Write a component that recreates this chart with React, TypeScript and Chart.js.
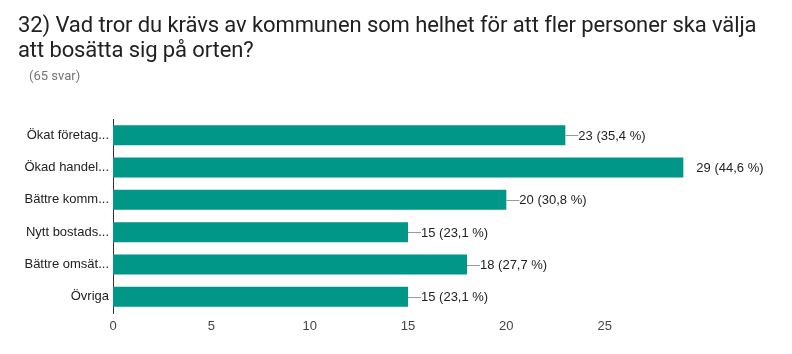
import React, { useEffect, useRef } from "react";
import { Chart, registerables } from "chart.js";

Chart.register(...registerables);

const TITLE_LINE_1 = "32) Vad tror du krävs av kommunen som helhet för att fler personer ska välja";
const TITLE_LINE_2 = "att bosätta sig på orten?";
const SUBTITLE = "(65 svar)";

const categories = ["Ökat företag...", "Ökad handel...", "Bättre komm...", "Nytt bostads...", "Bättre omsät...", "Övriga"];
const counts = [23, 29, 20, 15, 18, 15];
const percentLabels = ["35,4 %", "44,6 %", "30,8 %", "23,1 %", "27,7 %", "23,1 %"];
const xTicks = [0, 5, 10, 15, 20, 25];

const BAR_COLOR = "#009688";
const FONT = "'Liberation Sans', Arial, sans-serif";

const valueLabelPlugin = {
  id: "valueLabels",
  afterDatasetsDraw(chart: any) {
    const ctx = chart.ctx;
    const meta = chart.getDatasetMeta(0);
    const maxVal = Math.max(...counts);
    ctx.save();
    ctx.font = `13px ${FONT}`;
    ctx.textBaseline = "middle";
    ctx.textAlign = "left";
    meta.data.forEach((bar: any, i: number) => {
      const x = bar.x;
      const y = bar.y;
      const text = `${counts[i]} (${percentLabels[i]})`;
      if (counts[i] === maxVal) {
        ctx.fillStyle = "#222222";
        ctx.fillText(text, x + 13, y + 1);
      } else {
        ctx.strokeStyle = "#999999";
        ctx.lineWidth = 1;
        ctx.beginPath();
        ctx.moveTo(x, Math.round(y) + 0.5);
        ctx.lineTo(x + 13, Math.round(y) + 0.5);
        ctx.stroke();
        ctx.fillStyle = "#222222";
        ctx.fillText(text, x + 13, y + 1);
      }
    });
    ctx.restore();
  },
};

export default function App() {
  const canvasRef = useRef<HTMLCanvasElement | null>(null);

  useEffect(() => {
    if (!canvasRef.current) return;
    const chart = new Chart(canvasRef.current, {
      type: "bar",
      data: {
        labels: categories,
        datasets: [
          {
            data: counts,
            backgroundColor: BAR_COLOR,
            borderWidth: 0,
            barPercentage: 0.62,
            categoryPercentage: 1,
          },
        ],
      },
      plugins: [valueLabelPlugin],
      options: {
        indexAxis: "y",
        animation: false,
        responsive: false,
        maintainAspectRatio: false,
        layout: { padding: { top: 119, right: 89, bottom: 21, left: 0 } },
        plugins: {
          legend: { display: false },
          tooltip: { enabled: false },
          title: { display: false },
        },
        scales: {
          x: {
            min: 0,
            max: 30,
            afterFit: (scale: any) => {
              scale.height = 20;
            },
            afterBuildTicks: (scale: any) => {
              scale.ticks = xTicks.map((v) => ({ value: v }));
            },
            grid: { display: false, drawTicks: false },
            border: { display: false },
            ticks: {
              padding: 6,
              color: "#444444",
              font: { family: FONT, size: 13 },
            },
          },
          y: {
            afterFit: (scale: any) => {
              scale.width = 113;
            },
            grid: { display: false, drawTicks: false },
            border: { display: true, color: "#333333", width: 1 },
            ticks: {
              padding: 4,
              color: "#222222",
              font: { family: FONT, size: 13 },
            },
          },
        },
      },
    });
    return () => chart.destroy();
  }, []);

  return (
    <div
      style={{
        position: "fixed",
        left: 0,
        top: 0,
        width: 792,
        height: 354,
        background: "#ffffff",
        overflow: "hidden",
      }}
    >
      <canvas ref={canvasRef} width={792} height={354} style={{ position: "absolute", left: 0, top: 0 }} />
      <div
        style={{
          position: "absolute",
          left: 18,
          top: 12,
          fontFamily: "Roboto, 'Liberation Sans', Arial, sans-serif",
          fontSize: 22,
          lineHeight: "25px",
          letterSpacing: "-0.1px",
          color: "#212121",
          whiteSpace: "nowrap",
        }}
      >
        <div>{TITLE_LINE_1}</div>
        <div>{TITLE_LINE_2}</div>
      </div>
      <div
        style={{
          position: "absolute",
          left: 29,
          top: 68,
          fontFamily: "Roboto, 'Liberation Sans', Arial, sans-serif",
          fontSize: 13,
          lineHeight: "15px",
          color: "#757575",
        }}
      >
        {SUBTITLE}
      </div>
    </div>
  );
}
